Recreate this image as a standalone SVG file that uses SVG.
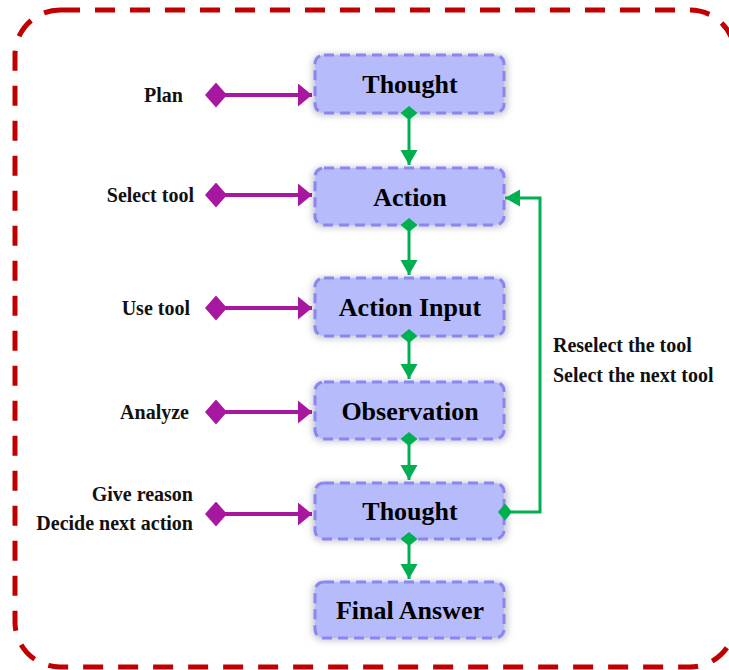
<svg xmlns="http://www.w3.org/2000/svg" width="729" height="670" viewBox="0 0 729 670">
  <style>
    .frame { fill: none; stroke: #c00000; stroke-width: 5; stroke-dasharray: 20 15; }
    .box { fill: #b6bbfc; stroke: #8c85ef; stroke-width: 3; stroke-dasharray: 10 6; }
    .halo { fill: #c9ccd6; filter: url(#soft); }
    .title { font-family: "Liberation Serif", "Times New Roman", serif; font-weight: bold; font-size: 26px; fill: #000; text-anchor: middle; }
    .label { font-family: "Liberation Serif", "Times New Roman", serif; font-weight: bold; font-size: 20px; fill: #111; }
    .flow { fill: none; stroke: #00b050; stroke-width: 3; marker-start: url(#gDiamond); marker-end: url(#gArrow); }
    .role { fill: none; stroke: #a8179f; stroke-width: 4; marker-start: url(#mDiamond); marker-end: url(#mArrow); }
  </style>
  <defs>
    <filter id="soft" x="-20%" y="-30%" width="140%" height="160%">
      <feGaussianBlur stdDeviation="3"/>
    </filter>
    <marker id="gArrow" markerUnits="userSpaceOnUse" markerWidth="16" markerHeight="18" refX="15" refY="8.5" orient="auto">
      <path d="M0,0 L15,8.5 L0,17 Z" fill="#00b050"/>
    </marker>
    <marker id="gDiamond" markerUnits="userSpaceOnUse" markerWidth="16" markerHeight="18" refX="7" refY="8.5" orient="auto">
      <path d="M0,8.5 L7,0 L14,8.5 L7,17 Z" fill="#00b050"/>
    </marker>
    <marker id="mArrow" markerUnits="userSpaceOnUse" markerWidth="16" markerHeight="24" refX="14" refY="11.5" orient="auto">
      <path d="M0,0 L14,11.5 L0,23 Z" fill="#a8179f"/>
    </marker>
    <marker id="mDiamond" markerUnits="userSpaceOnUse" markerWidth="24" markerHeight="26" refX="11" refY="12.5" orient="auto">
      <path d="M0,12.5 L11,0 L22,12.5 L11,25 Z" fill="#a8179f"/>
    </marker>
  </defs>

  <rect width="729" height="670" fill="#ffffff"/>

  <!-- outer dashed frame; its right side runs just past the canvas edge -->
  <rect class="frame" x="15" y="10" width="720" height="657" rx="45" ry="45"/>

  <!-- nodes -->
  <g id="node-thought-1">
    <rect class="halo" x="312" y="54" width="196" height="62" rx="10"/>
    <rect class="box" x="315" y="55" width="189" height="58" rx="9"/>
    <text class="title" x="410" y="93">Thought</text>
  </g>
  <g id="node-action">
    <rect class="halo" x="312" y="167" width="196" height="61" rx="10"/>
    <rect class="box" x="315" y="168" width="189" height="57" rx="9"/>
    <text class="title" x="410" y="206">Action</text>
  </g>
  <g id="node-action-input">
    <rect class="halo" x="312" y="277" width="196" height="62" rx="10"/>
    <rect class="box" x="315" y="278" width="189" height="58" rx="9"/>
    <text class="title" x="410" y="316">Action Input</text>
  </g>
  <g id="node-observation">
    <rect class="halo" x="312" y="381" width="196" height="61" rx="10"/>
    <rect class="box" x="315" y="382" width="189" height="57" rx="9"/>
    <text class="title" x="410" y="420">Observation</text>
  </g>
  <g id="node-thought-2">
    <rect class="halo" x="312" y="482" width="196" height="60" rx="10"/>
    <rect class="box" x="315" y="483" width="189" height="56" rx="9"/>
    <text class="title" x="410" y="520">Thought</text>
  </g>
  <g id="node-final-answer">
    <rect class="halo" x="312" y="581" width="196" height="60" rx="10"/>
    <rect class="box" x="315" y="582" width="189" height="56" rx="9"/>
    <text class="title" x="410" y="619">Final Answer</text>
  </g>

  <!-- role labels -->
  <g id="labels">
    <text class="label" x="183" y="102" text-anchor="end">Plan</text>
    <text class="label" x="194" y="202" text-anchor="end">Select tool</text>
    <text class="label" x="190" y="315" text-anchor="end">Use tool</text>
    <text class="label" x="189" y="419" text-anchor="end">Analyze</text>
    <text class="label" x="193" y="501" text-anchor="end">Give reason</text>
    <text class="label" x="193" y="530" text-anchor="end">Decide next action</text>
    <text class="label" x="553" y="352">Reselect the tool</text>
    <text class="label" x="553" y="382">Select the next tool</text>
  </g>

  <!-- connectors -->
  <g id="connectors">
    <path class="flow" d="M409,113 L409,165"/>
    <path class="flow" d="M409,225 L409,275"/>
    <path class="flow" d="M409,336 L409,379"/>
    <path class="flow" d="M409,439 L409,480"/>
    <path class="flow" d="M409,539 L409,579"/>
    <path class="flow" d="M505,512 L540,512 L540,198 L505,198"/>

    <path class="role" d="M216,95 L312,95"/>
    <path class="role" d="M216,195 L312,195"/>
    <path class="role" d="M216,308 L312,308"/>
    <path class="role" d="M216,412 L312,412"/>
    <path class="role" d="M216,514 L312,514"/>
  </g>
</svg>
